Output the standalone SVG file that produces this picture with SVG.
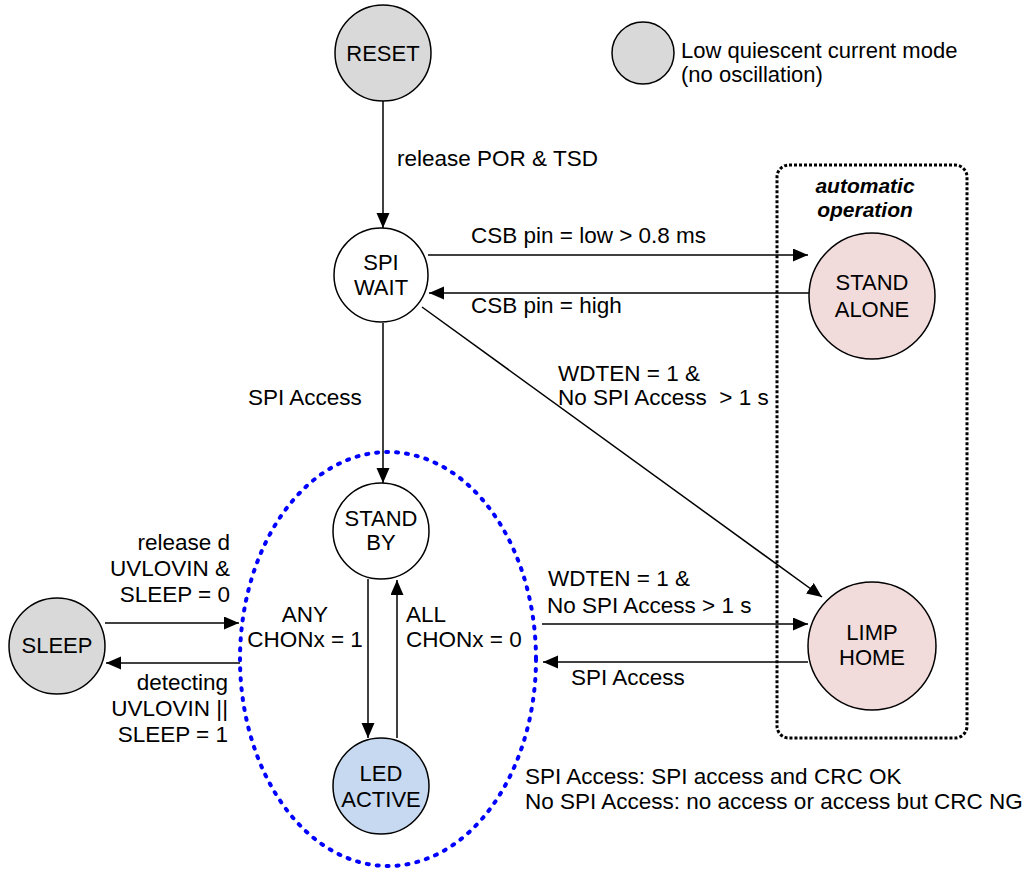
<svg xmlns="http://www.w3.org/2000/svg" width="1029" height="871" viewBox="0 0 1029 871">
<style>
text{font-family:"Liberation Sans",Arial,sans-serif;font-size:22.5px;fill:#000}
.n{font-size:22px}
.c{text-anchor:middle}
.r{text-anchor:end}
.node{stroke:#000;stroke-width:1.5}
.gray{fill:#d9d9d9}
.white{fill:#fff}
.pink{fill:#f2dcdb}
.blue{fill:#c6d9f1}
.edge{stroke:#000;stroke-width:1.5;fill:none;marker-end:url(#ah)}
.bi{font-weight:bold;font-style:italic;font-size:21px}
</style>
<defs>
<marker id="ah" markerUnits="userSpaceOnUse" markerWidth="16" markerHeight="14" refX="15" refY="6.5" orient="auto">
<path d="M0,0 L15,6.5 L0,13 z" fill="#000"/>
</marker>
</defs>
<rect width="1029" height="871" fill="#fff"/>
<g id="group-auto">
<rect x="777" y="165" width="190" height="573" rx="12" fill="none" stroke="#000" stroke-width="3" stroke-dasharray="3 2"/>
<text class="c bi" x="865" y="193">automatic</text>
<text class="c bi" x="865" y="217">operation</text>
</g>
<g id="group-led">
<ellipse cx="388" cy="659" rx="148" ry="207" fill="none" stroke="#0000ff" stroke-width="4" stroke-dasharray="2 8" stroke-linecap="round"/>
</g>
<g id="connectors">
<line class="edge" x1="383" y1="101" x2="383" y2="228"/>
<text x="397" y="166">release POR &amp; TSD</text>
<line class="edge" x1="428" y1="255" x2="808" y2="255"/>
<text x="471" y="243">CSB pin = low &gt; 0.8 ms</text>
<line class="edge" x1="809" y1="293" x2="429" y2="293"/>
<text x="471" y="313">CSB pin = high</text>
<line class="edge" x1="383" y1="323" x2="383" y2="483"/>
<text x="248" y="405">SPI Access</text>
<line class="edge" x1="422" y1="307" x2="822" y2="597"/>
<text x="558" y="381">WDTEN = 1 &amp;</text>
<text x="558" y="405" xml:space="preserve">No SPI Access  &gt; 1 s</text>
<line class="edge" x1="105" y1="623" x2="239" y2="623"/>
<text class="r" x="230" y="550">release d</text>
<text class="r" x="230" y="576">UVLOVIN &amp;</text>
<text class="r" x="230" y="602">SLEEP = 0</text>
<line class="edge" x1="240" y1="663" x2="106" y2="663"/>
<text class="r" x="228" y="690">detecting</text>
<text class="r" x="228" y="716">UVLOVIN ||</text>
<text class="r" x="228" y="742">SLEEP = 1</text>
<line class="edge" x1="368" y1="579" x2="368" y2="738"/>
<line class="edge" x1="397" y1="738" x2="397" y2="580"/>
<text class="c" x="305" y="622">ANY</text>
<text class="c" x="305" y="647">CHONx = 1</text>
<text x="406" y="622">ALL</text>
<text x="406" y="647">CHONx = 0</text>
<line class="edge" x1="542" y1="624" x2="808" y2="624"/>
<text x="548" y="586">WDTEN = 1 &amp;</text>
<text x="547" y="613">No SPI Access &gt; 1 s</text>
<line class="edge" x1="808" y1="662" x2="543" y2="662"/>
<text x="571" y="685">SPI Access</text>
</g>
<g id="node-reset">
<circle class="node gray" cx="383" cy="53" r="48"/>
<text class="c n" x="383" y="61">RESET</text>
</g>
<g id="node-legend">
<circle class="node gray" cx="643" cy="53" r="31"/>
<text class="n" x="681" y="58">Low quiescent current mode</text>
<text class="n" x="681" y="82">(no oscillation)</text>
</g>
<g id="node-spiwait">
<circle class="node white" cx="381" cy="275" r="47"/>
<text class="c n" x="381" y="270">SPI</text>
<text class="c n" x="381" y="295">WAIT</text>
</g>
<g id="node-standalone">
<circle class="node pink" cx="872" cy="296" r="63"/>
<text class="c n" x="872" y="290">STAND</text>
<text class="c n" x="872" y="317">ALONE</text>
</g>
<g id="node-standby">
<circle class="node white" cx="381" cy="531" r="48"/>
<text class="c n" x="381" y="526">STAND</text>
<text class="c n" x="381" y="550">BY</text>
</g>
<g id="node-ledactive">
<circle class="node blue" cx="381" cy="786" r="48"/>
<text class="c n" x="381" y="781">LED</text>
<text class="c n" x="381" y="807">ACTIVE</text>
</g>
<g id="node-sleep">
<circle class="node gray" cx="57" cy="646" r="48"/>
<text class="c n" x="57" y="653">SLEEP</text>
</g>
<g id="node-limphome">
<circle class="node pink" cx="872" cy="646" r="64"/>
<text class="c n" x="872" y="640">LIMP</text>
<text class="c n" x="872" y="665">HOME</text>
</g>
<g id="note">
<text x="525" y="784">SPI Access: SPI access and CRC OK</text>
<text x="525" y="809">No SPI Access: no access or access but CRC NG</text>
</g>
</svg>
